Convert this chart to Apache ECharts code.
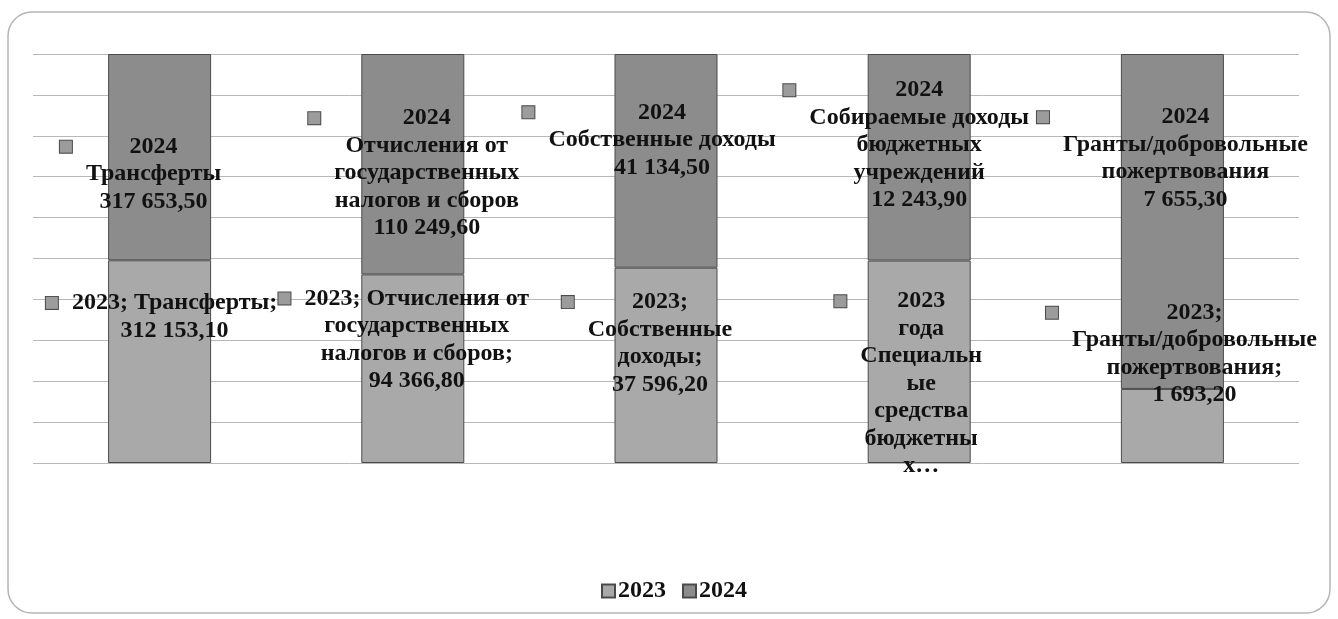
<!DOCTYPE html>
<html>
<head>
<meta charset="utf-8">
<script src="https://cdn.jsdelivr.net/npm/echarts@6/dist/echarts.min.js"></script>
<style>
  html, body { margin: 0; padding: 0; background: #fff; }
  #chart { width: 1338px; height: 619px; }
</style>
</head>
<body>
<div id="chart"></div>
<script>
const categories = [
  "Трансферты",
  "Отчисления от государственных налогов и сборов",
  "Собственные доходы",
  "Собираемые доходы бюджетных учреждений",
  "Гранты/добровольные пожертвования",
];
const values2023 = [312153.1, 94366.8, 37596.2, 12000, 1693.2];
const values2024 = [317653.5, 110249.6, 41134.5, 12243.9, 7655.3];

// label texts as they were broken in the original
const labelText2024 = [
  "Трансферты",
  "Отчисления от\nгосударственных\nналогов и сборов",
  "Собственные доходы",
  "Собираемые доходы\nбюджетных\nучреждений",
  "Гранты/добровольные\nпожертвования",
];
const labelText2023 = [
  "2023; Трансферты;",
  "2023; Отчисления от\nгосударственных\nналогов и сборов;",
  "2023;\nСобственные\nдоходы;",
  "2023\nгода\nСпециальн\nые\nсредства\nбюджетны\nх…",
  "2023;\nГранты/добровольные\nпожертвования;",
];
const showValue2023 = [true, true, true, false, true];

// label offsets from segment centre, px
const offset2024 = [[-19, 17], [1, 9], [-17, -21], [-13, -12], [0, -63]];
const offset2023 = [[2, -45], [-9, -29], [-19, -22], [-11, 22], [9, -72]];

const font = "'Liberation Serif', 'Times New Roman', serif";
const fillLight = "#a9a9a9";
const fillDark = "#8c8c8c";
const LH = 27.5;

const fmt = (v) => {
  const [i, d] = v.toFixed(2).split(".");
  return i.replace(/\B(?=(\d{3})+(?!\d))/g, " ") + "," + d;
};

// legend key square at the top left of the label block, text centred
const richLabel = (text) =>
  text
    .split("\n")
    .map((line, k) => (k === 0 ? `{sq| }{g| }{t|${line}}` : `{sp| }{t|${line}}`))
    .join("\n");

const rich = {
  t: {
    fontFamily: font, fontWeight: "bold", fontSize: 24, color: "#111",
    lineHeight: LH, align: "center", textBorderWidth: 0,
  },
  sq: {
    width: 12, height: 12, lineHeight: LH, fontSize: 10, align: "left",
    color: "transparent",
    backgroundColor: "#9c9c9c", borderColor: "#4a4a4a", borderWidth: 1,
  },
  g: { width: 14, lineHeight: LH, fontSize: 10, align: "left", color: "transparent" },
  sp: { width: 26, lineHeight: LH, fontSize: 10, align: "left", color: "transparent" },
};

const totals = values2023.map((v, i) => v + values2024[i]);

const makeData = (vals, offsets, textFn) =>
  vals.map((v, i) => ({
    value: (v / totals[i]) * 100,
    label: { offset: offsets[i], formatter: richLabel(textFn(i)) },
  }));

const data2023 = makeData(values2023, offset2023, (i) =>
  showValue2023[i] ? `${labelText2023[i]}\n${fmt(values2023[i])}` : labelText2023[i]
);
const data2024 = makeData(values2024, offset2024, (i) =>
  `2024\n${labelText2024[i]}\n${fmt(values2024[i])}`
);

const labelBase = {
  show: true,
  position: "inside",
  color: "#111",
  textBorderWidth: 0,
  textBorderColor: "transparent",
  rich: rich,
};

const chart = echarts.init(document.getElementById("chart"));
chart.setOption({
  animation: false,
  backgroundColor: "#fff",
  textStyle: { fontFamily: font },
  grid: { left: 33, right: 39, top: 54, bottom: 156 },
  xAxis: {
    type: "category",
    data: categories,
    axisLine: { show: false },
    axisTick: { show: false },
    axisLabel: { show: false },
  },
  yAxis: {
    type: "value",
    min: 0,
    max: 100,
    interval: 10,
    axisLabel: { show: false },
    axisLine: { show: false },
    axisTick: { show: false },
    splitLine: { lineStyle: { color: "#b8b8b8", width: 1 } },
  },
  legend: {
    bottom: 11,
    left: 596,
    itemWidth: 13,
    itemHeight: 13,
    itemGap: 16,
    icon: "rect",
    textStyle: { fontFamily: font, fontWeight: "bold", fontSize: 24, color: "#111", padding: [0, 0, 0, -2] },
    data: ["2023", "2024"],
  },
  graphic: [
    {
      type: "rect",
      shape: { x: 8, y: 12, width: 1322, height: 601, r: 24 },
      style: { fill: "none", stroke: "#b5b5b5", lineWidth: 1.5 },
      silent: true,
    },
  ],
  series: [
    {
      name: "2023",
      type: "bar",
      stack: "total",
      barWidth: 103,
      itemStyle: { color: fillLight, borderColor: "#4a4a4a", borderWidth: 1 },
      label: labelBase,
      data: data2023,
    },
    {
      name: "2024",
      type: "bar",
      stack: "total",
      barWidth: 103,
      itemStyle: { color: fillDark, borderColor: "#4a4a4a", borderWidth: 1 },
      label: labelBase,
      data: data2024,
    },
  ],
});
</script>
</body>
</html>
